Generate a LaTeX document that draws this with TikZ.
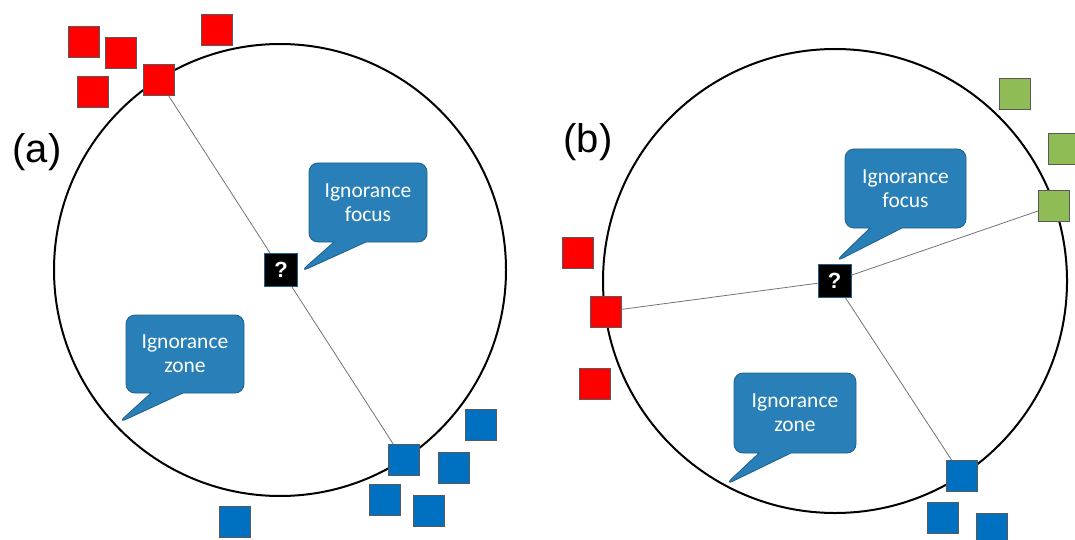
\documentclass[tikz,border=0pt]{standalone}
\usepackage{fontspec}
\setmainfont{Liberation Sans}
\newfontfamily\bubblefont{Carlito}
\usetikzlibrary{shapes.callouts}

\definecolor{sqred}{RGB}{255,0,0}
\definecolor{sqblue}{RGB}{0,112,192}
\definecolor{sqgreen}{RGB}{143,188,84}
\definecolor{bubblefill}{RGB}{41,128,185}
\definecolor{bubbleedge}{RGB}{30,95,140}

\begin{document}
\begin{tikzpicture}[x=1pt, y=-1pt,
    ring/.style={circle, draw=black, line width=2pt, inner sep=0pt, minimum size=#1},
    sq/.style={draw=black!65, line width=0.6pt, minimum size=31pt, inner sep=0pt},
    redsq/.style={sq, fill=sqred},
    bluesq/.style={sq, fill=sqblue},
    greensq/.style={sq, fill=sqgreen},
    query/.style={draw=bubbleedge, line width=0.8pt, fill=black, text=white,
        minimum size=33pt, inner sep=0pt, font=\bfseries\fontsize{22}{22}\selectfont},
    link/.style={draw=black!55, line width=0.8pt},
    bubble/.style={rectangle callout, rounded corners=9pt, fill=bubblefill,
        draw=bubbleedge, line width=0.8pt, text=white, align=center,
        callout pointer width=32pt, inner sep=0pt,
        font=\bubblefont\fontsize{21.5}{24}\selectfont},
    tag/.style={font=\fontsize{40}{40}\selectfont, inner sep=0pt}]

    \useasboundingbox (0,0) rectangle (1075,540);

    % Panel (a)
    \node[tag] (taga) at (37,152) {(a)};
    \node[ring=452pt] (circa) at (280,270) {};

    \node[redsq] (ra1) at (83.5,41.5) {};
    \node[redsq] (ra2) at (120.5,53) {};
    \node[redsq] (ra3) at (93,91.5) {};
    \node[redsq] (ra4) at (158.5,80) {};
    \node[redsq] (ra5) at (217,30) {};

    \node[bluesq] (ba1) at (403.5,460) {};
    \node[bluesq] (ba2) at (481,424.5) {};
    \node[bluesq] (ba3) at (453.5,467.5) {};
    \node[bluesq] (ba4) at (385,499.5) {};
    \node[bluesq] (ba5) at (428.5,511) {};
    \node[bluesq] (ba6) at (235,522) {};

    \node[query] (qa) at (281,270) {?};
    \draw[link] (ra4) -- (qa);
    \draw[link] (qa) -- (ba1);

    \node[bubble, minimum width=118pt, minimum height=79pt,
        callout absolute pointer={(300,272)}] (focusa) at (368,202.5) {Ignorance\\focus};
    \node[bubble, minimum width=118pt, minimum height=78pt,
        callout absolute pointer={(118,423)}] (zonea) at (185,354) {Ignorance\\zone};

    % Panel (b)
    \node[tag] (tagb) at (588,142) {(b)};
    \node[ring=464pt] (circb) at (835,281) {};

    \node[redsq] (rb1) at (578,253) {};
    \node[redsq] (rb2) at (605.5,311.5) {};
    \node[redsq] (rb3) at (594.5,383.5) {};

    \node[greensq] (gb1) at (1015,94) {};
    \node[greensq] (gb2) at (1064,148.5) {};
    \node[greensq] (gb3) at (1054,205.5) {};

    \node[bluesq] (bb1) at (962,476) {};
    \node[bluesq] (bb2) at (943,518) {};
    \node[bluesq] (bb3) at (992,529) {};

    \node[query] (qb) at (834.5,281) {?};
    \draw[link] (qb) -- (rb2);
    \draw[link] (qb) -- (gb3);
    \draw[link] (qb) -- (bb1);

    \node[bubble, minimum width=121pt, minimum height=79pt,
        callout absolute pointer={(835,262)}] (focusb) at (905.5,188.5) {Ignorance\\focus};
    \node[bubble, minimum width=122pt, minimum height=80pt,
        callout absolute pointer={(725,485)}] (zoneb) at (795,413) {Ignorance\\zone};

\end{tikzpicture}
\end{document}
